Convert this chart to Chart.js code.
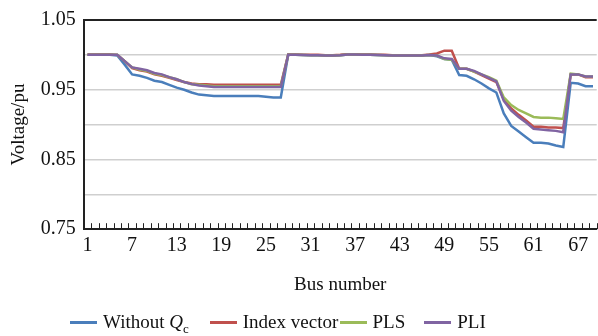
<!DOCTYPE html>
<html>
<head>
<meta charset="utf-8">
<script src="https://cdn.jsdelivr.net/npm/chart.js@4/dist/chart.umd.min.js"></script>
<style>
  html, body { margin: 0; padding: 0; background: #fff; }
  #wrap { position: relative; width: 598px; height: 336px; }
  #legend {
    position: absolute; left: 70px; top: 311px;
    font-family: "Liberation Serif", serif; font-size: 19px; color: #111;
    white-space: nowrap;
  }
  #legend span.item { display: inline-block; }
  #legend span.swatch { display: inline-block; width: 27px; height: 3px; vertical-align: middle; margin-right: 6px; position: relative; top: -1px; }
</style>
</head>
<body>
<div id="wrap">
  <canvas id="voltChart" width="598" height="336"></canvas>
  <div id="legend"></div>
</div>
<script>
const buses = [1, 2, 3, 4, 5, 6, 7, 8, 9, 10, 11, 12, 13, 14, 15, 16, 17, 18, 19, 20,
  21, 22, 23, 24, 25, 26, 27, 28, 29, 30, 31, 32, 33, 34, 35, 36, 37, 38, 39, 40,
  41, 42, 43, 44, 45, 46, 47, 48, 49, 50, 51, 52, 53, 54, 55, 56, 57, 58, 59, 60,
  61, 62, 63, 64, 65, 66, 67, 68, 69];

const withoutQc = [1.000, 1.000, 1.000, 1.000, 0.999, 0.986, 0.972, 0.970, 0.967, 0.963,
  0.961, 0.957, 0.953, 0.950, 0.946, 0.943, 0.942, 0.941, 0.941, 0.941,
  0.941, 0.941, 0.941, 0.941, 0.940, 0.939, 0.939, 1.000, 1.000, 0.9998,
  0.9995, 0.9995, 0.999, 0.999, 0.9995, 1.0005, 1.0005, 1.000, 1.000, 0.9998,
  0.9995, 0.999, 0.999, 0.999, 0.999, 0.999, 0.9998, 0.998, 0.994, 0.993,
  0.971, 0.970, 0.965, 0.959, 0.952, 0.946, 0.916, 0.898, 0.890, 0.882,
  0.874, 0.874, 0.873, 0.870, 0.868, 0.960, 0.959, 0.955, 0.955];

const indexVector = [1.0005, 1.0005, 1.0005, 1.0005, 1.000, 0.991, 0.981, 0.978, 0.976, 0.972,
  0.970, 0.967, 0.964, 0.961, 0.959, 0.958, 0.958, 0.957, 0.957, 0.957,
  0.957, 0.957, 0.957, 0.957, 0.957, 0.957, 0.957, 1.0005, 1.0005, 1.000,
  1.000, 1.000, 0.9995, 0.9995, 1.000, 1.001, 1.001, 1.0005, 1.0005, 1.000,
  1.000, 0.9995, 0.9995, 0.9995, 0.9995, 0.9995, 1.0005, 1.002, 1.006, 1.006,
  0.980, 0.980, 0.976, 0.971, 0.966, 0.961, 0.936, 0.923, 0.914, 0.906,
  0.897, 0.897, 0.896, 0.896, 0.895, 0.972, 0.972, 0.968, 0.968];

const pls = [1.000, 1.000, 1.000, 1.000, 1.000, 0.991, 0.982, 0.979, 0.977, 0.973,
  0.971, 0.968, 0.965, 0.961, 0.958, 0.957, 0.956, 0.955, 0.955, 0.955,
  0.955, 0.955, 0.955, 0.955, 0.955, 0.955, 0.955, 1.000, 1.000, 0.9998,
  0.9995, 0.9995, 0.999, 0.999, 0.9995, 1.0005, 1.0005, 1.000, 1.000, 0.9998,
  0.9995, 0.999, 0.999, 0.999, 0.999, 0.999, 0.9998, 0.999, 0.994, 0.993,
  0.980, 0.980, 0.976, 0.972, 0.968, 0.963, 0.939, 0.928, 0.921, 0.916,
  0.911, 0.910, 0.910, 0.909, 0.908, 0.973, 0.972, 0.969, 0.969];

const pli = [1.000, 1.000, 1.000, 1.000, 1.000, 0.991, 0.982, 0.980, 0.978, 0.974,
  0.972, 0.968, 0.965, 0.961, 0.958, 0.956, 0.955, 0.954, 0.954, 0.954,
  0.954, 0.954, 0.954, 0.954, 0.954, 0.954, 0.954, 1.000, 1.000, 0.9998,
  0.9995, 0.9995, 0.999, 0.999, 0.9995, 1.0005, 1.0005, 1.000, 1.000, 0.9998,
  0.9995, 0.999, 0.999, 0.999, 0.999, 0.999, 0.9998, 0.999, 0.995, 0.994,
  0.980, 0.980, 0.977, 0.972, 0.967, 0.962, 0.934, 0.920, 0.911, 0.903,
  0.894, 0.893, 0.892, 0.891, 0.889, 0.972, 0.972, 0.969, 0.969];

const yTicks = [0.75, 0.85, 0.95, 1.05];

const series = [
  { name: "Without Q", sub: "c", data: withoutQc, color: "#4a7ebb" },
  { name: "Index vector", data: indexVector, color: "#c0504d" },
  { name: "PLS", data: pls, color: "#9bbb59" },
  { name: "PLI", data: pli, color: "#8064a2" }
];
// legend slot widths, like the Excel legend
const legendSlots = [135, 125, 80, 70];

const FONT = "'Liberation Serif', 'Times New Roman', serif";

// tick marks on the x axis point up into the plot
const innerTicks = {
  id: "innerTicks",
  afterDraw(chart) {
    const x = chart.scales.x, area = chart.chartArea, ctx = chart.ctx;
    const step = x.getPixelForTick(1) - x.getPixelForTick(0);
    ctx.save();
    ctx.strokeStyle = "#222";
    ctx.lineWidth = 1;
    for (let i = 0; i <= buses.length; i++) {
      const px = Math.round(x.getPixelForTick(0) - step / 2 + i * step) + 0.5;
      ctx.beginPath();
      ctx.moveTo(px, area.bottom);
      ctx.lineTo(px, area.bottom - 6);
      ctx.stroke();
    }
    ctx.restore();
  }
};

new Chart(document.getElementById("voltChart"), {
  type: "line",
  data: {
    labels: buses,
    datasets: series.map((s, i) => ({
      label: s.name + (s.sub || ""),
      data: s.data,
      borderColor: s.color,
      backgroundColor: s.color,
      borderWidth: 2.5,
      pointRadius: 0,
      tension: 0,
      order: series.length - i
    }))
  },
  options: {
    responsive: false,
    animation: false,
    layout: { padding: { top: 8, right: 0, bottom: 40, left: 8 } },
    plugins: { legend: { display: false }, tooltip: { enabled: false } },
    scales: {
      x: {
        offset: true,
        grid: { display: false, drawTicks: false },
        border: { color: "#222", width: 2 },
        ticks: {
          autoSkip: false, maxRotation: 0, padding: 5,
          color: "#111", font: { family: FONT, size: 20 },
          callback: (v, i) => (i % 6 === 0 ? String(buses[i]) : "")
        },
        title: {
          display: true, text: "Bus number", color: "#111",
          font: { family: FONT, size: 19 }, padding: { top: 10, bottom: 0 }
        }
      },
      y: {
        min: 0.75, max: 1.05,
        afterBuildTicks: scale => {
          scale.ticks = [0.75, 0.8, 0.85, 0.9, 0.95, 1.0, 1.05].map(v => ({ value: v }));
        },
        grid: {
          drawTicks: false,
          color: ctx => (ctx.tick && Math.abs(ctx.tick.value - 1.05) < 1e-6 ? "#222" : "#cfcfcf"),
          lineWidth: ctx => (ctx.tick && Math.abs(ctx.tick.value - 1.05) < 1e-6 ? 2 : 1.5)
        },
        border: { color: "#222", width: 2 },
        ticks: {
          padding: 8, color: "#111", font: { family: FONT, size: 20 },
          callback: v => (yTicks.some(t => Math.abs(t - v) < 1e-6) ? v.toFixed(2) : "")
        },
        title: {
          display: true, text: "Voltage/pu", color: "#111",
          font: { family: FONT, size: 19 }, padding: { top: 0, bottom: 2 }
        }
      }
    }
  },
  plugins: [innerTicks]
});

document.getElementById("legend").innerHTML = series.map((s, i) => `
  <span class="item" style="width:${legendSlots[i]}px"><span class="swatch" style="background:${s.color}"></span>${
    s.sub ? s.name.replace("Q", "<i>Q</i>") + `<sub style="font-size:13px">${s.sub}</sub>` : s.name
  }</span>`).join("");
</script>
</body>
</html>
